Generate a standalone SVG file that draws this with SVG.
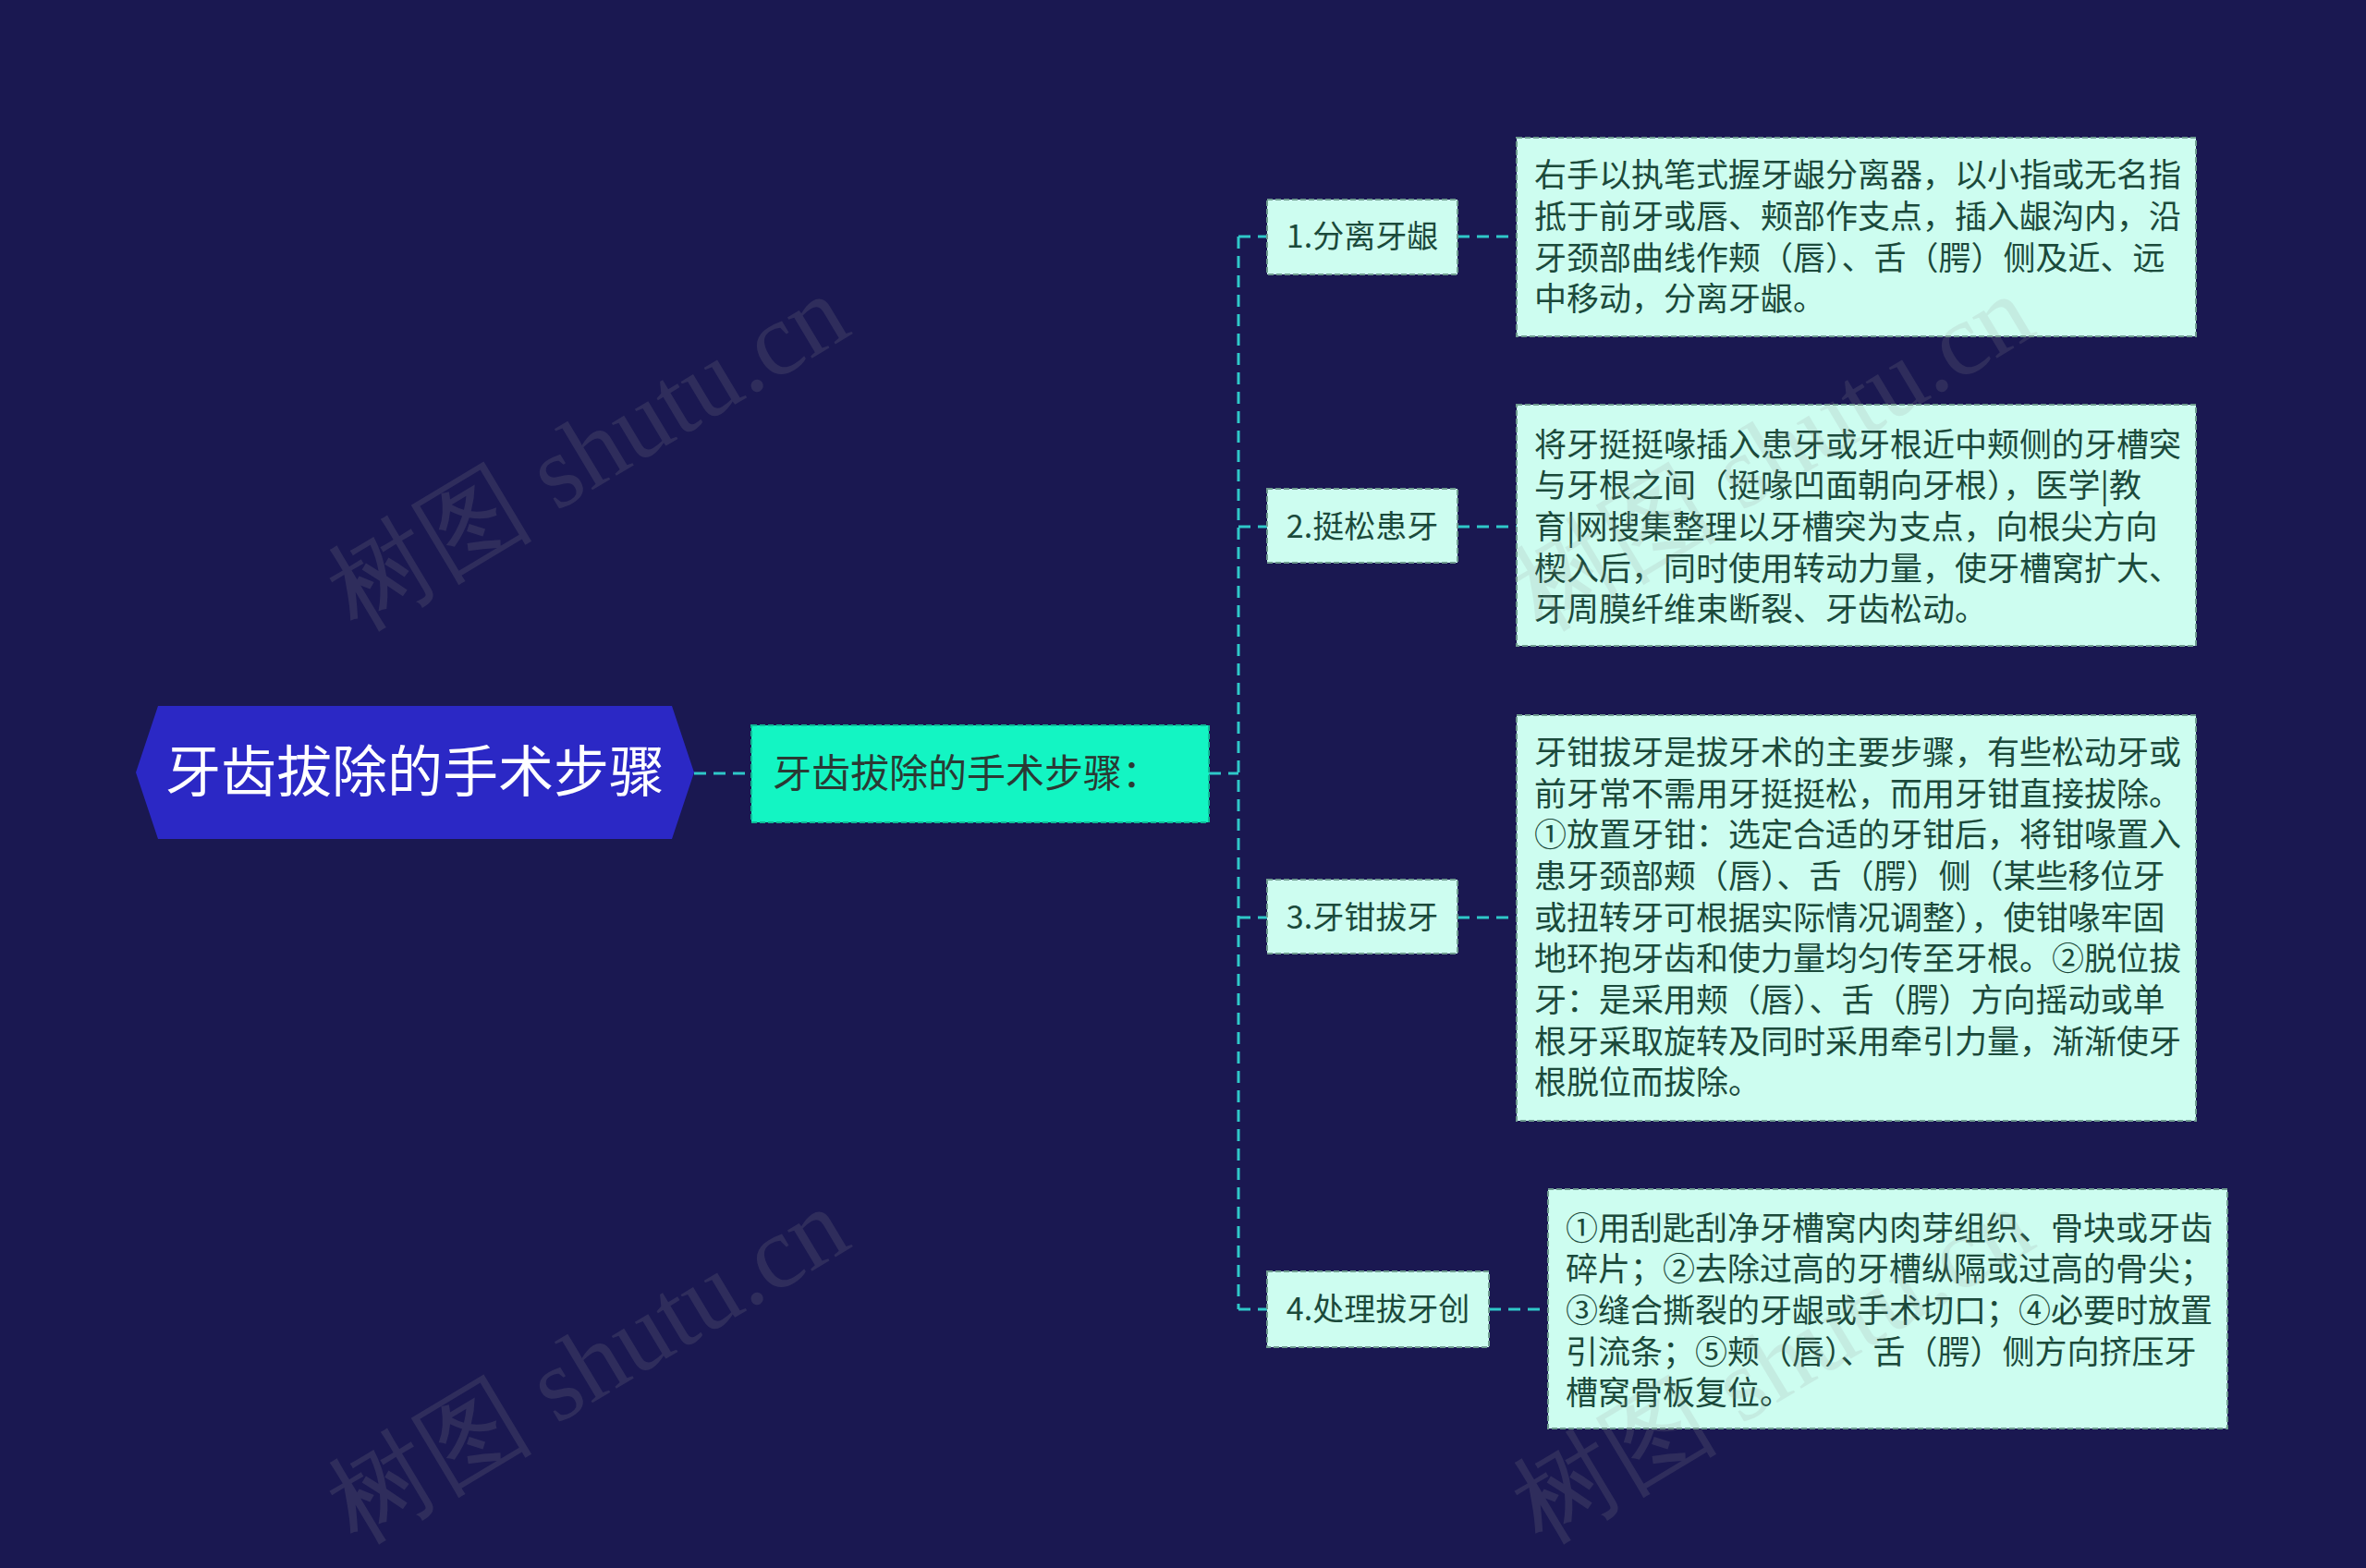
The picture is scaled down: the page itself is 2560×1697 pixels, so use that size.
<svg xmlns="http://www.w3.org/2000/svg" width="2560" height="1697" viewBox="0 0 2560 1697">
<style>
.cn{font-family:"Noto Sans CJK SC","Noto Sans",sans-serif;}
.conn{fill:none;stroke:#2fc8c9;stroke-width:3;stroke-dasharray:13 8;}
.l2{fill:#cdfdf0;stroke:#6f9c90;stroke-width:2;stroke-dasharray:6 3;}
.det{fill:#cdfdf0;stroke:#6f9c90;stroke-width:2;stroke-dasharray:6 3;}
.l2t{font-size:34px;fill:#1b4a3b;text-anchor:middle;}
.dt{font-size:35px;fill:#1b4a3b;}
.wm{font-family:"Liberation Serif",serif;font-size:112px;fill:#9a9a9a;opacity:0.16;}
</style>
<rect width="2560" height="1697" fill="#1a1851"/>
<g id="connectors">
<path class="conn" d="M751 837 H813"/>
<path class="conn" d="M1308 837 H1340"/>
<path class="conn" d="M1340 256 V1417"/>
<path class="conn" d="M1340 256 H1371"/>
<path class="conn" d="M1340 570 H1371"/>
<path class="conn" d="M1340 993 H1371"/>
<path class="conn" d="M1340 1417 H1371"/>
<path class="conn" d="M1577 256 H1641"/>
<path class="conn" d="M1577 570 H1641"/>
<path class="conn" d="M1577 993 H1641"/>
<path class="conn" d="M1611 1417 H1675"/>
</g>
<g id="root">
<polygon points="147,836 171,764 727,764 751,836 727,908 171,908" fill="#2b28c5"/>
<text class="cn" x="449" y="857" font-size="60" fill="#ffffff" text-anchor="middle">牙齿拔除的手术步骤</text>
</g>
<g id="sub">
<rect x="813" y="785" width="495" height="105" fill="#13f5c3" stroke="#0fb996" stroke-width="2" stroke-dasharray="6 3"/>
<text class="cn" x="836" y="852" font-size="42" fill="#2a3a34">牙齿拔除的手术步骤：</text>
</g>
<g id="n1">
<rect class="l2" x="1371" y="216" width="206" height="81"/>
<text class="cn l2t" x="1474" y="268">1.分离牙龈</text>
</g>
<g id="n2">
<rect class="l2" x="1371" y="529" width="206" height="80"/>
<text class="cn l2t" x="1474" y="582">2.挺松患牙</text>
</g>
<g id="n3">
<rect class="l2" x="1371" y="952" width="206" height="80"/>
<text class="cn l2t" x="1474" y="1005">3.牙钳拔牙</text>
</g>
<g id="n4">
<rect class="l2" x="1371" y="1376" width="240" height="82"/>
<text class="cn l2t" x="1491" y="1429">4.处理拔牙创</text>
</g>
<g id="d1">
<rect class="det" x="1641" y="149" width="735" height="215"/>
<text class="cn dt">
<tspan x="1660" y="202">右手以执笔式握牙龈分离器，以小指或无名指</tspan>
<tspan x="1660" y="247">抵于前牙或唇、颊部作支点，插入龈沟内，沿</tspan>
<tspan x="1660" y="292">牙颈部曲线作颊（唇）、舌（腭）侧及近、远</tspan>
<tspan x="1660" y="336">中移动，分离牙龈。</tspan>
</text>
</g>
<g id="d2">
<rect class="det" x="1641" y="438" width="735" height="261"/>
<text class="cn dt">
<tspan x="1660" y="494">将牙挺挺喙插入患牙或牙根近中颊侧的牙槽突</tspan>
<tspan x="1660" y="538">与牙根之间（挺喙凹面朝向牙根），医学|教</tspan>
<tspan x="1660" y="583">育|网搜集整理以牙槽突为支点，向根尖方向</tspan>
<tspan x="1660" y="628">楔入后，同时使用转动力量，使牙槽窝扩大、</tspan>
<tspan x="1660" y="672">牙周膜纤维束断裂、牙齿松动。</tspan>
</text>
</g>
<g id="d3">
<rect class="det" x="1641" y="774" width="735" height="439"/>
<text class="cn dt">
<tspan x="1660" y="827">牙钳拔牙是拔牙术的主要步骤，有些松动牙或</tspan>
<tspan x="1660" y="872">前牙常不需用牙挺挺松，而用牙钳直接拔除。</tspan>
<tspan x="1660" y="916">①放置牙钳：选定合适的牙钳后，将钳喙置入</tspan>
<tspan x="1660" y="961">患牙颈部颊（唇）、舌（腭）侧（某些移位牙</tspan>
<tspan x="1660" y="1006">或扭转牙可根据实际情况调整），使钳喙牢固</tspan>
<tspan x="1660" y="1050">地环抱牙齿和使力量均匀传至牙根。②脱位拔</tspan>
<tspan x="1660" y="1095">牙：是采用颊（唇）、舌（腭）方向摇动或单</tspan>
<tspan x="1660" y="1140">根牙采取旋转及同时采用牵引力量，渐渐使牙</tspan>
<tspan x="1660" y="1184">根脱位而拔除。</tspan>
</text>
</g>
<g id="d4">
<rect class="det" x="1675" y="1287" width="735" height="259"/>
<text class="cn dt">
<tspan x="1694" y="1342">①用刮匙刮净牙槽窝内肉芽组织、骨块或牙齿</tspan>
<tspan x="1694" y="1386">碎片；②去除过高的牙槽纵隔或过高的骨尖；</tspan>
<tspan x="1694" y="1431">③缝合撕裂的牙龈或手术切口；④必要时放置</tspan>
<tspan x="1694" y="1476">引流条；⑤颊（唇）、舌（腭）侧方向挤压牙</tspan>
<tspan x="1694" y="1520">槽窝骨板复位。</tspan>
</text>
</g>
<g id="watermarks">
<text class="wm" x="655" y="522" text-anchor="middle" transform="rotate(-31 655 522)">树图 shutu.cn</text>
<text class="wm" x="1937" y="522" text-anchor="middle" transform="rotate(-31 1937 522)">树图 shutu.cn</text>
<text class="wm" x="655" y="1510" text-anchor="middle" transform="rotate(-31 655 1510)">树图 shutu.cn</text>
<text class="wm" x="1937" y="1510" text-anchor="middle" transform="rotate(-31 1937 1510)">树图 shutu.cn</text>
</g>
</svg>
